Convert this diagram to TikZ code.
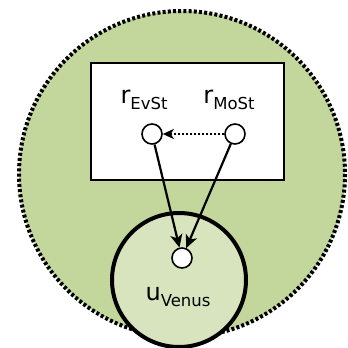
\documentclass[tikz,border=0pt]{standalone}
\usepackage{fontspec}
\setmainfont{DejaVu Sans}
\usetikzlibrary{arrows.meta}
\definecolor{outergreen}{RGB}{195,214,155}
\definecolor{innergreen}{RGB}{215,228,189}
\tikzset{
  dot/.style={circle,draw,fill=white,line width=1.6pt,minimum size=20pt,inner sep=0pt},
  lbl/.style={font=\fontsize{24}{27}\selectfont,inner sep=0pt},
  link/.style={line width=2.2pt,-{Stealth[length=13pt,width=12pt,inset=3.5pt]}},
}
\newcommand{\sbs}[1]{\raisebox{-0.4ex}{\fontsize{16.5}{18}\selectfont #1}}
\begin{document}
\begin{tikzpicture}[x=1pt,y=-1pt]
  \useasboundingbox (0,0) rectangle (348,348);
  % outer region
  \draw[fill=outergreen,line width=4pt,dash pattern=on 3pt off 2.2pt] (182,174) circle (163);
  % inner box with the two states
  \draw[fill=white,line width=1.6pt] (91,63) rectangle (284,180);
  % inner circle
  \draw[fill=innergreen,line width=4pt] (179,280) circle (67);
  \node[dot] (ev) at (152,134) {};
  \node[dot] (mo) at (235,134) {};
  \node[dot] (u) at (182,258) {};
  \node[lbl] (evl) at (144,100) {r\sbs{EvSt}};
  \node[lbl] (mol) at (229,100) {r\sbs{MoSt}};
  \node[lbl] (ul) at (178,297) {u\sbs{Venus}};
  \draw[line width=2pt,dotted,-{Stealth[length=11pt,width=10pt,inset=3pt]}] (mo) -- (ev);
  \draw[link] (ev) -- (u);
  \draw[link] (mo) -- (u);
\end{tikzpicture}
\end{document}
